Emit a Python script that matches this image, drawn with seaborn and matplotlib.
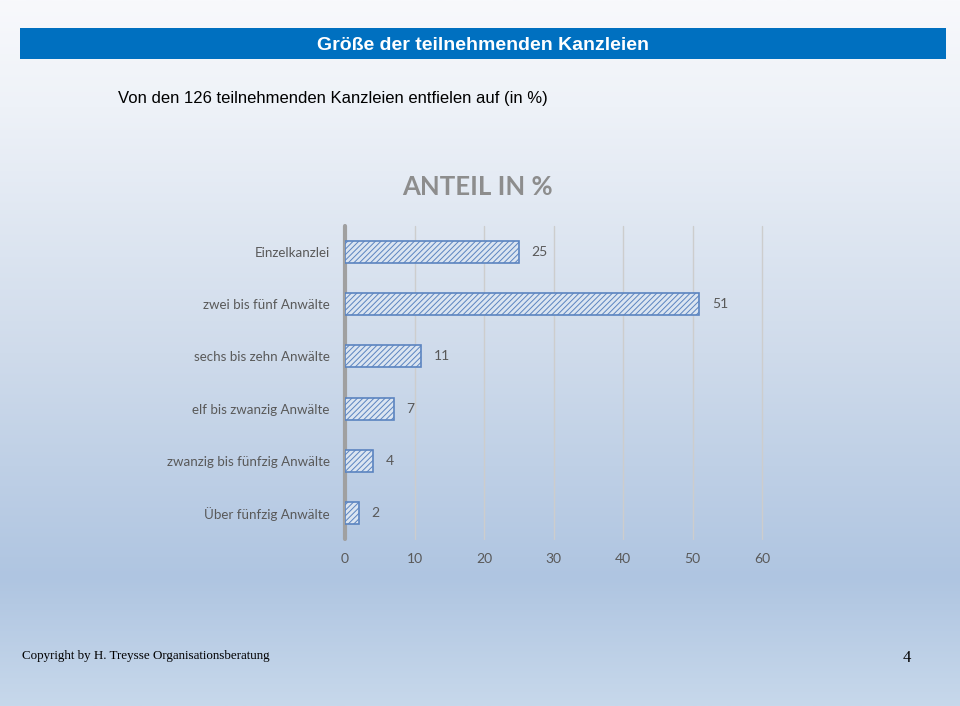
import matplotlib.pyplot as plt
import numpy as np
import pandas as pd
import seaborn as sns
from matplotlib.colors import LinearSegmentedColormap
from matplotlib.patches import Rectangle

kategorien = [
    "Einzelkanzlei",
    "zwei bis fünf Anwälte",
    "sechs bis zehn Anwälte",
    "elf bis zwanzig Anwälte",
    "zwanzig bis fünfzig Anwälte",
    "Über fünfzig Anwälte",
]
anteil = [25, 51, 11, 7, 4, 2]
x_ticks = [0, 10, 20, 30, 40, 50, 60]

sns.set_theme(style="white")
plt.rcParams["font.family"] = ["Lato", "DejaVu Sans"]
plt.rcParams["hatch.color"] = "#5b84c0"
plt.rcParams["hatch.linewidth"] = 0.7

fig = plt.figure(figsize=(9.6, 7.06), dpi=100)

# slide background: vertical gradient
bg = fig.add_axes([0, 0, 1, 1], zorder=0)
grad_cmap = LinearSegmentedColormap.from_list(
    "slide",
    [(0.0, "#f8f9fc"), (0.15, "#eef2f8"), (0.5, "#cfdbeb"),
     (0.82, "#afc5e1"), (1.0, "#c7d8eb")],
)
bg.imshow(np.linspace(0, 1, 256).reshape(-1, 1), aspect="auto", cmap=grad_cmap,
          extent=[0, 1, 0, 1], origin="upper")
bg.set_xlim(0, 1)
bg.set_ylim(0, 1)
bg.axis("off")

# header bar
bg.add_patch(Rectangle((20 / 960, 1 - 59 / 706), 926 / 960, 31 / 706,
                       facecolor="#0070c0", edgecolor="none"))
fig.text(483 / 960, 1 - 46 / 706, "Größe der teilnehmenden Kanzleien",
         ha="center", va="center", color="white", fontsize=14,
         fontweight="bold", family=["Liberation Sans", "DejaVu Sans"])
fig.text(118 / 960, 1 - 99 / 706,
         "Von den 126 teilnehmenden Kanzleien entfielen auf (in %)",
         ha="left", va="center", color="black", fontsize=12,
         family=["Liberation Sans", "DejaVu Sans"])
fig.text(477 / 960, 1 - 187 / 706, "ANTEIL IN %", ha="center", va="center",
         color="#8d8d8d", fontsize=18.5, fontweight="bold")

# chart
ax = fig.add_axes([345 / 960, 1 - 539 / 706, 417 / 960, 313 / 706], zorder=1)
ax.set_facecolor("none")
df = pd.DataFrame({"kategorie": kategorien, "anteil": anteil})
sns.barplot(data=df, x="anteil", y="kategorie", orient="h", color="#dbe5f1",
            edgecolor="#5b84c0", linewidth=1.2, width=0.42, saturation=1,
            ax=ax, zorder=3)
for patch in ax.patches:
    patch.set_hatch("//////")
ax.bar_label(ax.containers[0], padding=9, color="#595959", fontsize=10)

ax.set_xlim(0, 60)
ax.set_xticks(x_ticks)
for x in x_ticks[1:]:
    ax.axvline(x, color="#cdcdcd", lw=1.0, zorder=1, clip_on=False)
ax.axvline(0, color="#a0a0a0", lw=3, zorder=2, clip_on=False)
ax.set_xlabel("")
ax.set_ylabel("")
ax.tick_params(axis="both", length=0, labelcolor="#595959", labelsize=10)
ax.tick_params(axis="y", labelsize=9.6)
ax.tick_params(axis="x", pad=10)
ax.tick_params(axis="y", pad=11)
for spine in ax.spines.values():
    spine.set_visible(False)

# footer
fig.text(22 / 960, 1 - 656 / 706, "Copyright by H. Treysse Organisationsberatung",
         ha="left", va="center", color="black", fontsize=9.4,
         family=["Liberation Serif", "DejaVu Serif"])
fig.text(907 / 960, 1 - 658 / 706, "4", ha="center", va="center",
         color="black", fontsize=12, family=["Liberation Serif", "DejaVu Serif"])

fig.savefig("out.png", dpi=100)
